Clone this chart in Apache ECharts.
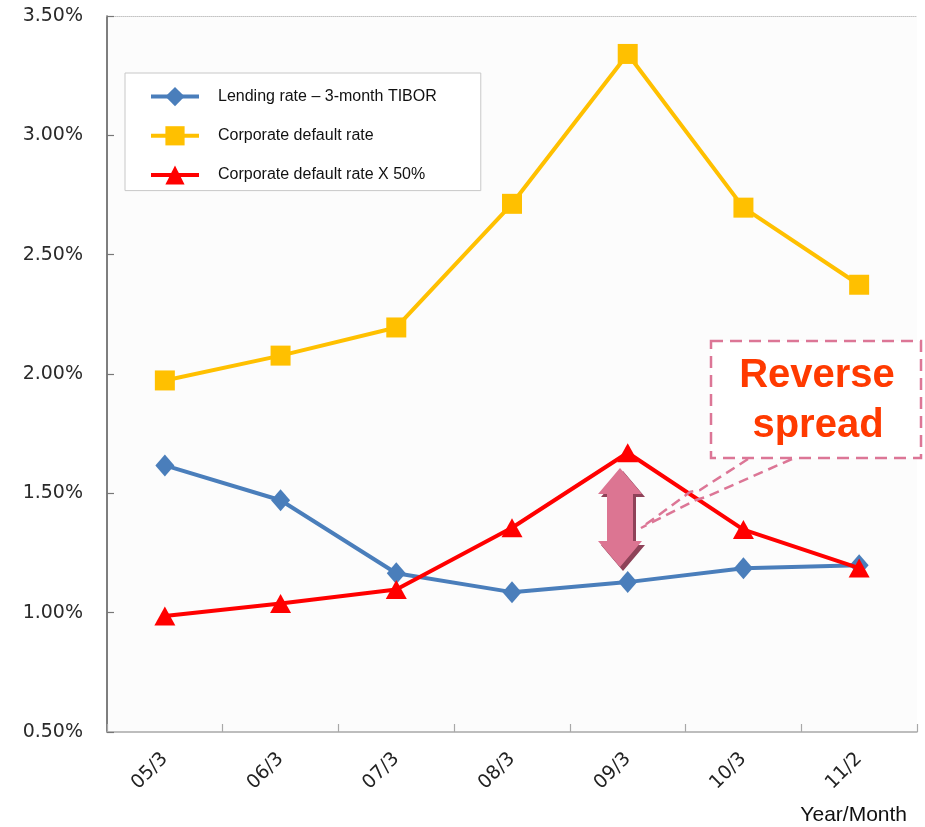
<!DOCTYPE html>
<html>
<head>
<meta charset="utf-8">
<script src="https://cdn.jsdelivr.net/npm/echarts@6/dist/echarts.min.js"></script>
<style>
  html, body { margin: 0; padding: 0; background: #ffffff; }
  #chart { width: 925px; height: 827px; }
</style>
</head>
<body>
<div id="chart"></div>
<script>
// Year/month observation points
const categories = ['05/3', '06/3', '07/3', '08/3', '09/3', '10/3', '11/2'];

// Rates in percent
const lendingRate = [1.617, 1.471, 1.165, 1.086, 1.128, 1.186, 1.199];
const defaultRate = [1.973, 2.077, 2.195, 2.713, 3.341, 2.697, 2.374];
const defaultRateHalf = [0.986, 1.038, 1.097, 1.356, 1.670, 1.348, 1.187];

const seriesNames = [
  'Lending rate \u2013 3-month TIBOR',
  'Corporate default rate',
  'Corporate default rate X 50%'
];

const yTicks = [0.5, 1.0, 1.5, 2.0, 2.5, 3.0, 3.5];

const chart = echarts.init(document.getElementById('chart'), null, { renderer: 'canvas' });

const axisFont = 'DejaVu Sans';
const pink = '#dc7696';

// Double-headed arrow pointing between the two rates
function arrowShape(cx, top, bottom, headW, shaftW, headH) {
  const hw = headW / 2, sw = shaftW / 2;
  return [
    [cx, top],
    [cx + hw, top + headH],
    [cx + sw, top + headH],
    [cx + sw, bottom - headH],
    [cx + hw, bottom - headH],
    [cx, bottom],
    [cx - hw, bottom - headH],
    [cx - sw, bottom - headH],
    [cx - sw, top + headH],
    [cx - hw, top + headH]
  ];
}

const option = {
  backgroundColor: '#ffffff',
  animation: false,
  grid: {
    left: 107, right: 8, top: 16, bottom: 95,
    show: true, backgroundColor: '#fcfcfc', borderWidth: 0
  },
  legend: {
    orient: 'vertical',
    left: 125,
    top: 73,
    padding: [14, 44, 6, 24],
    itemGap: 20,
    itemWidth: 48,
    itemHeight: 24,
    backgroundColor: '#ffffff',
    borderColor: '#c8c8c8',
    borderWidth: 1,
    data: seriesNames,
    lineStyle: { width: 4 },
    textStyle: {
      fontFamily: 'Liberation Sans, Arial, sans-serif',
      fontSize: 16,
      color: '#111111',
      padding: [0, 0, 0, 14]
    }
  },
  xAxis: [{
    type: 'category',
    data: categories,
    boundaryGap: true,
    axisLine: { show: true, lineStyle: { color: '#a8a8a8', width: 1.5 } },
    axisTick: { show: true, inside: true, length: 8, alignWithLabel: false,
      lineStyle: { color: '#a8a8a8', width: 1.2 } },
    axisLabel: {
      rotate: 45, margin: 24,
      fontFamily: axisFont, fontSize: 19, color: '#222222'
    },
    splitLine: { show: false }
  }, {
    type: 'category',
    data: categories,
    position: 'top',
    axisLine: { show: true, lineStyle: { color: '#c4c4c4', width: 1, type: 'dotted' } },
    axisTick: { show: false },
    axisLabel: { show: false }
  }],
  yAxis: {
    type: 'value',
    min: yTicks[0],
    max: yTicks[yTicks.length - 1],
    interval: 0.5,
    axisLine: { show: true, lineStyle: { color: '#555555', width: 1.5 } },
    axisTick: { show: true, inside: true, length: 7, lineStyle: { color: '#777777', width: 1.2 } },
    axisLabel: {
      margin: 24,
      padding: [6, 0, 0, 0],
      fontFamily: axisFont, fontSize: 19, color: '#2a2a2a',
      formatter: v => v.toFixed(2) + '%'
    },
    splitLine: { show: false }
  },
  series: [
    {
      name: seriesNames[0],
      type: 'line',
      data: lendingRate,
      symbol: 'diamond',
      symbolSize: [19, 22],
      itemStyle: { color: '#4a7ebb' },
      lineStyle: { color: '#4a7ebb', width: 4 },
      z: 3
    },
    {
      name: seriesNames[1],
      type: 'line',
      data: defaultRate,
      symbol: 'rect',
      symbolSize: 20,
      itemStyle: { color: '#ffc000' },
      lineStyle: { color: '#ffc000', width: 4 },
      z: 4
    },
    {
      name: seriesNames[2],
      type: 'line',
      data: defaultRateHalf,
      symbol: 'triangle',
      symbolSize: [21, 19],
      itemStyle: { color: '#ff0000' },
      lineStyle: { color: '#ff0000', width: 4 },
      z: 5
    }
  ],
  graphic: [
    // callout leader lines
    {
      type: 'polyline', z: 20,
      shape: { points: [[748, 459], [700, 490], [690, 492], [641, 528]] },
      style: { stroke: pink, lineWidth: 2.5, lineDash: [10, 6], fill: null }
    },
    {
      type: 'polyline', z: 20,
      shape: { points: [[792, 459], [706, 497], [696, 500], [641, 528]] },
      style: { stroke: pink, lineWidth: 2.5, lineDash: [10, 6], fill: null }
    },
    // callout box
    {
      type: 'rect', z: 20,
      shape: { x: 711, y: 341, width: 210, height: 117 },
      style: { fill: '#ffffff', stroke: pink, lineWidth: 2.5, lineDash: [12, 7] }
    },
    {
      type: 'text', z: 21,
      style: {
        x: 817, y: 376,
        text: 'Reverse',
        fontFamily: 'Liberation Sans, Arial, sans-serif',
        fontWeight: 'bold', fontSize: 40,
        fill: '#ff3a00',
        align: 'center', verticalAlign: 'middle'
      }
    },
    {
      type: 'text', z: 21,
      style: {
        x: 818, y: 426,
        text: 'spread',
        fontFamily: 'Liberation Sans, Arial, sans-serif',
        fontWeight: 'bold', fontSize: 40,
        fill: '#ff3a00',
        align: 'center', verticalAlign: 'middle'
      }
    },
    // arrow shadow and body
    {
      type: 'polygon', z: 18,
      shape: { points: arrowShape(623, 471, 571, 44, 26, 26) },
      style: { fill: '#8e4258' }
    },
    {
      type: 'polygon', z: 19,
      shape: { points: arrowShape(620, 468, 567, 44, 26, 26) },
      style: { fill: '#dc7592' }
    },
    // axis title
    {
      type: 'text', z: 10,
      style: {
        x: 907, y: 815,
        text: 'Year/Month',
        fontFamily: 'Liberation Sans, Arial, sans-serif',
        fontSize: 21,
        fill: '#111111',
        align: 'right', verticalAlign: 'middle'
      }
    }
  ]
};

chart.setOption(option);
</script>
</body>
</html>
